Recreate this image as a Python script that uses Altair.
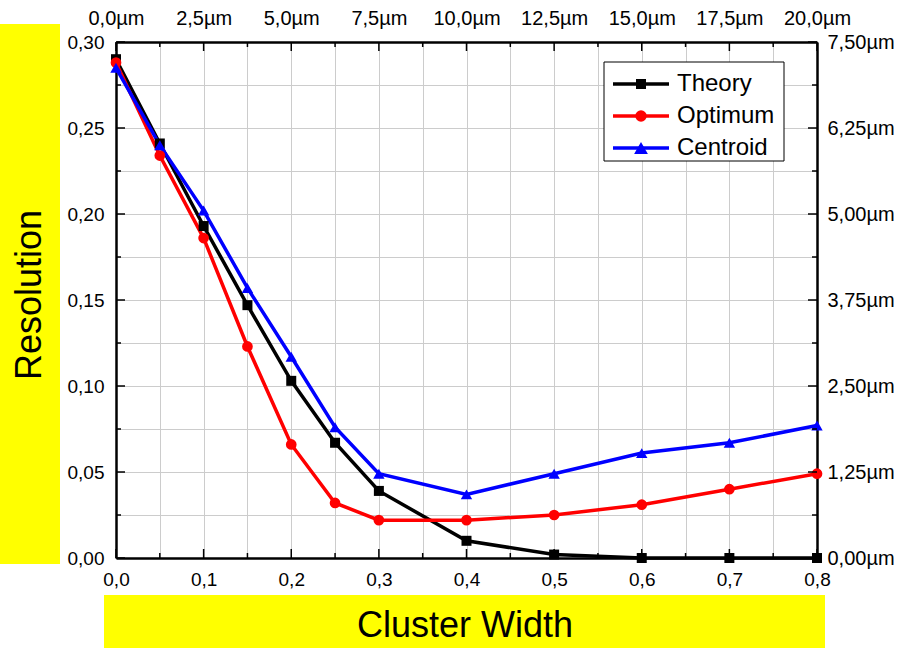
import altair as alt
import pandas as pd

# ---- data ----
cluster_width = [0.0, 0.05, 0.1, 0.15, 0.2, 0.25, 0.3, 0.4, 0.5, 0.6, 0.7, 0.8]
theory = [0.290, 0.241, 0.193, 0.147, 0.103, 0.067, 0.039, 0.010, 0.002, 0.000, 0.000, 0.000]
optimum = [0.288, 0.234, 0.186, 0.123, 0.066, 0.032, 0.022, 0.022, 0.025, 0.031, 0.040, 0.049]
centroid = [0.285, 0.240, 0.202, 0.157, 0.117, 0.076, 0.049, 0.037, 0.049, 0.061, 0.067, 0.077]

series_names = ["Theory", "Optimum", "Centroid"]
series_colors = ["#000000", "#ff0000", "#0000ff"]
series_shapes = ["square", "circle", "triangle-up"]
series_sizes = [100, 130, 190]

x_major = [0.0, 0.1, 0.2, 0.3, 0.4, 0.5, 0.6, 0.7, 0.8]
x_minor = [0.05, 0.15, 0.25, 0.35, 0.45, 0.55, 0.65, 0.75]
y_major = [0.0, 0.05, 0.10, 0.15, 0.20, 0.25, 0.30]
y_minor = [0.025, 0.075, 0.125, 0.175, 0.225, 0.275]

x_title = "Cluster Width"
y_title = "Resolution"

W, H = 701, 516
FONT = "Liberation Sans"

rows = []
for name, vals in zip(series_names, [theory, optimum, centroid]):
    for xv, yv in zip(cluster_width, vals):
        rows.append({"width": xv, "res": yv, "series": name})
df = pd.DataFrame(rows)

xs = alt.Scale(domain=[0, 0.8], nice=False, zero=False)
ys = alt.Scale(domain=[0, 0.3], nice=False, zero=False)

grid_x_vals = sorted(x_major + x_minor)
grid_y_vals = sorted(y_major + y_minor)

x_axis = alt.Axis(
    title=None, orient="bottom", values=grid_x_vals, grid=True,
    gridColor="#cccccc", gridWidth=1, tickSize=0, domainColor="black",
    domainWidth=2.5, labelFont=FONT, labelFontSize=19, labelColor="black",
    labelPadding=12, labelFlush=False, labelOverlap=False,
    labelExpr="abs(datum.value*10 - round(datum.value*10)) < 0.001 ? replace(format(datum.value, '.1f'), '.', ',') : ''",
)
y_axis = alt.Axis(
    title=None, orient="left", values=grid_y_vals, grid=True,
    gridColor="#cccccc", gridWidth=1, tickSize=0, domainColor="black",
    domainWidth=2.5, labelFont=FONT, labelFontSize=19, labelColor="black",
    labelPadding=12, labelFlush=False, labelOverlap=False,
    labelExpr="abs(datum.value*20 - round(datum.value*20)) < 0.001 ? replace(format(datum.value, '.2f'), '.', ',') : ''",
)

X = lambda f: alt.X(f, type="quantitative", scale=xs, axis=x_axis)
Y = lambda f: alt.Y(f, type="quantitative", scale=ys, axis=y_axis)

color = alt.Color("series:N", scale=alt.Scale(domain=series_names, range=series_colors), legend=None)
shape = alt.Shape("series:N", scale=alt.Scale(domain=series_names, range=series_shapes), legend=None)
size = alt.Size("series:N", scale=alt.Scale(domain=series_names, range=series_sizes), legend=None)

lines = alt.Chart(df).mark_line(strokeWidth=3.5).encode(
    x=X("width"), y=Y("res"), color=color, detail="series:N"
)
points = alt.Chart(df).mark_point(filled=True, opacity=1).encode(
    x=X("width"), y=Y("res"), color=color, shape=shape, size=size
)

# inward ticks
def tick_df(vals):
    return pd.DataFrame({"v": vals})

tick_layers = []
for vals, L in [(x_major, 9), (x_minor, 5)]:
    tick_layers.append(alt.Chart(tick_df(vals)).mark_rule(color="black", strokeWidth=1.5).encode(
        x=X("v"), y=alt.value(H), y2=alt.value(H - L)))
    tick_layers.append(alt.Chart(tick_df(vals)).mark_rule(color="black", strokeWidth=1.5).encode(
        x=X("v"), y=alt.value(0), y2=alt.value(L)))
for vals, L in [(y_major, 9), (y_minor, 5)]:
    tick_layers.append(alt.Chart(tick_df(vals)).mark_rule(color="black", strokeWidth=1.5).encode(
        y=Y("v"), x=alt.value(0), x2=alt.value(L)))
    tick_layers.append(alt.Chart(tick_df(vals)).mark_rule(color="black", strokeWidth=1.5).encode(
        y=Y("v"), x=alt.value(W), x2=alt.value(W - L)))

one = pd.DataFrame({"k": [0]})

# yellow title boxes and titles
ybox = alt.Chart(one).mark_rect(color="#ffff00").encode(
    x=alt.value(-116), x2=alt.value(-56), y=alt.value(-18), y2=alt.value(522))
xbox = alt.Chart(one).mark_rect(color="#ffff00").encode(
    x=alt.value(-12), x2=alt.value(709), y=alt.value(553), y2=alt.value(606))
ytext = alt.Chart(pd.DataFrame({"t": [y_title]})).mark_text(
    font=FONT, fontSize=36, angle=270, align="center", baseline="middle", color="black"
).encode(text="t:N", x=alt.value(-86), y=alt.value(253))
xtext = alt.Chart(pd.DataFrame({"t": [x_title]})).mark_text(
    font=FONT, fontSize=36, align="center", baseline="middle", color="black"
).encode(text="t:N", x=alt.value(349), y=alt.value(584))

# custom legend
leg_layers = [
    alt.Chart(one).mark_rect(fill="white", stroke="black", strokeWidth=1).encode(
        x=alt.value(488), x2=alt.value(668), y=alt.value(20), y2=alt.value(119))
]
row_y = [42, 74, 106]
for name, col, shp, sz, yy in zip(series_names, series_colors, series_shapes, series_sizes, row_y):
    d = pd.DataFrame({"t": [name]})
    leg_layers.append(alt.Chart(d).mark_rule(color=col, strokeWidth=3.5).encode(
        x=alt.value(497), x2=alt.value(553), y=alt.value(yy)))
    leg_layers.append(alt.Chart(d).mark_point(shape=shp, filled=True, size=sz, color=col, opacity=1).encode(
        x=alt.value(525), y=alt.value(yy)))
    leg_layers.append(alt.Chart(d).mark_text(font=FONT, fontSize=24, align="left", baseline="middle", color="black").encode(
        text="t:N", x=alt.value(561), y=alt.value(yy)))

main = alt.layer(ybox, xbox, ytext, xtext, lines, points, *tick_layers, *leg_layers)

# secondary (top/right) axes in micrometres
x2_axis = alt.Axis(
    title=None, orient="top", values=x_major, grid=False, tickSize=0,
    domainColor="black", domainWidth=2.5, labelFont=FONT, labelFontSize=20,
    labelColor="black", labelPadding=14, labelFlush=False, labelOverlap=False,
    labelExpr="replace(format(datum.value*25, '.1f'), '.', ',') + 'µm'",
)
y2_axis = alt.Axis(
    title=None, orient="right", values=y_major, grid=False, tickSize=0,
    domainColor="black", domainWidth=2.5, labelFont=FONT, labelFontSize=20,
    labelColor="black", labelPadding=10, labelFlush=False, labelOverlap=False,
    labelExpr="replace(format(datum.value*25, '.2f'), '.', ',') + 'µm'",
)
sec = alt.Chart(df).mark_point(opacity=0).encode(
    x=alt.X("width:Q", scale=alt.Scale(domain=[0, 0.8], nice=False, zero=False), axis=x2_axis),
    y=alt.Y("res:Q", scale=alt.Scale(domain=[0, 0.3], nice=False, zero=False), axis=y2_axis),
)

chart = alt.layer(main, sec).resolve_scale(x="independent", y="independent").properties(
    width=W, height=H,
    autosize=alt.AutoSizeParams(type="none"),
    padding={"left": 116, "top": 42, "right": 97, "bottom": 92},
    background="white",
).configure_view(stroke=None)

chart.save("out.html", embed_options={"renderer": "svg", "actions": False})
